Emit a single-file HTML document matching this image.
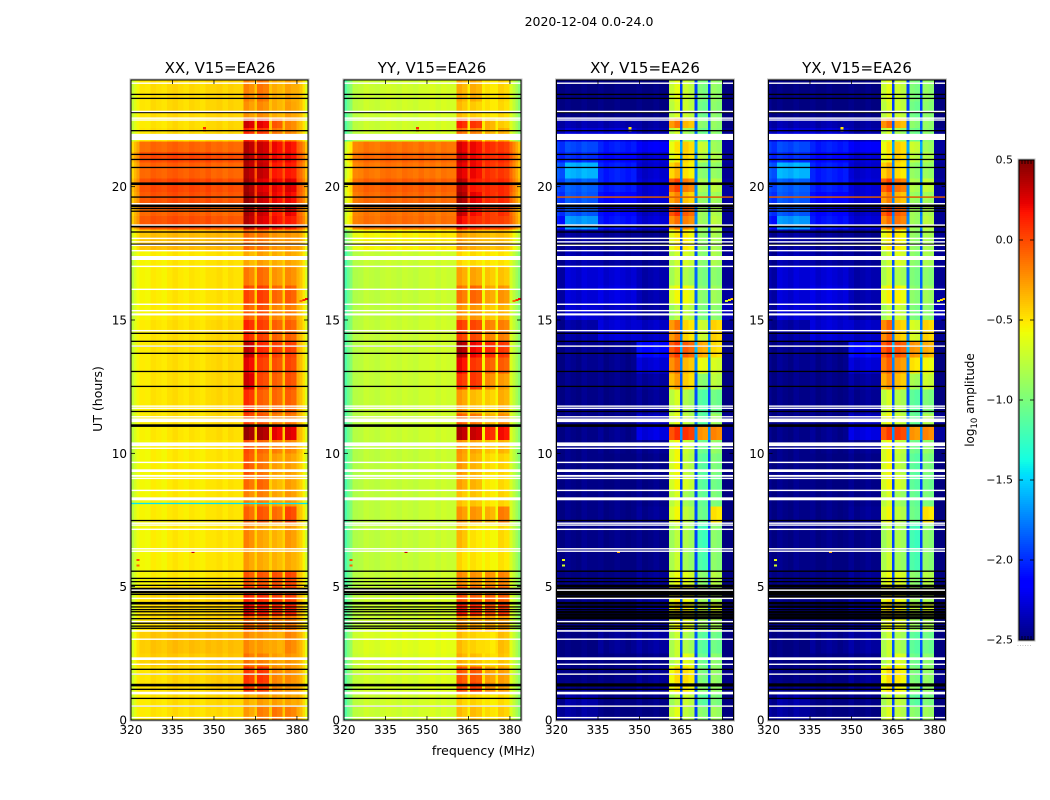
<!DOCTYPE html>
<html lang="en">
<head>
<meta charset="utf-8">
<title>2020-12-04 0.0-24.0</title>
<style>
html,body{margin:0;padding:0;background:#fff;width:1050px;height:800px;overflow:hidden}
svg{display:block;font-family:"DejaVu Sans","Liberation Sans",sans-serif;fill:#000}
</style>
</head>
<body>
<svg id="figure" xmlns="http://www.w3.org/2000/svg" width="1050" height="800" viewBox="0 0 1050 800">
  <rect x="0" y="0" width="1050" height="800" fill="#fff"/>
  <text x="589" y="26" font-size="12.5" text-anchor="middle">2020-12-04 0.0-24.0</text>
  <g id="panel-xx"></g>
  <g id="panel-yy"></g>
  <g id="panel-xy"></g>
  <g id="panel-yx"></g>
  <text x="220" y="73" font-size="15" text-anchor="middle">XX, V15=EA26</text>
  <text x="432" y="73" font-size="15" text-anchor="middle">YY, V15=EA26</text>
  <text x="645" y="73" font-size="15" text-anchor="middle">XY, V15=EA26</text>
  <text x="857" y="73" font-size="15" text-anchor="middle">YX, V15=EA26</text>
  <text x="483.5" y="755" font-size="12.5" text-anchor="middle">frequency (MHz)</text>
  <text x="0" y="0" font-size="12.5" text-anchor="middle" transform="translate(102,399) rotate(-90)">UT (hours)</text>
  <g id="colorbar"></g>
  <text x="0" y="0" font-size="12" text-anchor="middle" transform="translate(974,400) rotate(-90)">log<tspan font-size="8.5" dy="3">10</tspan><tspan dy="-3"> amplitude</tspan></text>
  <text x="1017" y="646" font-size="6" fill="#888" letter-spacing="0.6">......</text>
</svg>
<script>
// Axis ticks
const freqTicks = [320, 335, 350, 365, 380];
const hourTicks = [0, 5, 10, 15, 20];
const colorbarTicks = [0.5, 0.0, -0.5, -1.0, -1.5, -2.0, -2.5];

// Frequency channel edges in MHz (37 channels)
const channelEdges = [320,321,322,323,325,327,329,331,333,335,337,339,341,343,345,347,349,351,353,355,357,359,360.6,362.6,364.7,365.5,367.7,369.9,371,372.8,374.7,375.7,377.8,379.9,381,382,383,384];
// Which level column each channel reads
const channelColumn = [0,0,0,1,1,1,1,1,1,2,2,2,2,2,2,2,3,3,3,3,3,3,4,4,3,5,5,3,6,6,3,7,7,8,8,8,8];
// Channel-by-channel log10 amplitude deviations
const xxChannelOffset = [-.22,-.12,-.04,-.02,-.03,.02,0,-.02,.02,.03,0,-.02,.02,0,-.02,.02,0,.02,-.02,.02,0,0,.03,-.03,.06,.02,-.02,.06,.02,-.02,.06,.02,-.02,.12,.06,-.05,-.2];
const yyChannelOffset = [-.3,-.18,-.1,-.05,-.03,.02,0,-.02,.02,.02,0,-.02,.02,0,-.02,.02,0,.02,-.02,.02,0,0,.03,-.03,.15,.02,-.02,.15,.02,-.02,.15,.02,-.02,.15,.05,-.05,-.15];
const xyChannelOffset = [.05,0,0,.03,0,-.03,.03,0,0,.03,-.03,0,.03,0,-.03,0,.03,-.03,0,.03,0,0,-.08,.04,.55,.03,-.03,.55,.02,-.02,.55,.02,-.02,0,0,0,0];
const yxChannelOffset = [.05,0,0,.03,0,-.03,.03,0,0,.03,-.03,0,.03,0,-.03,0,.03,-.03,0,.03,0,0,-.08,.04,.55,.03,-.03,.55,.02,-.02,.55,.02,-.02,0,0,0,0];

// Time block edges in hours (40 blocks)
const blockEdges = [0,.5,.95,1.4,2,2.5,3.3,3.9,4.4,5,5.6,6.4,7.4,8,8.6,9.2,10,10.5,11,11.5,12.4,13,13.6,14.2,15,15.6,16.3,17,17.6,18.4,18.9,19.3,19.8,20.3,20.9,21.3,21.7,22.2,22.6,23.2,24];

// log10 amplitude per block: [edgeL, cont1, cont2, cont3, band1, band2, band3, band4, edgeR]
const xxLevels = [
[-.50,-.50,-.48,-.47,-.28,-.18,-.15,-.18,-.42],
[-.50,-.50,-.48,-.46,-.33,-.28,-.28,-.30,-.42],
[-.48,-.48,-.46,-.42,.05,.02,-.20,-.25,-.40],
[-.48,-.48,-.45,-.42,.05,.06,-.20,-.22,-.40],
[-.44,-.42,-.42,-.40,-.15,-.18,-.28,-.25,-.42],
[-.44,-.40,-.38,-.38,-.22,-.27,-.32,-.20,-.42],
[-.50,-.47,-.45,-.44,-.08,-.12,-.18,-.15,-.45],
[-.50,-.47,-.46,-.45,.22,.15,.10,.12,-.42],
[-.50,-.46,-.46,-.44,.10,.08,.03,.03,-.42],
[-.54,-.53,-.52,-.50,-.05,-.05,-.03,.00,-.47],
[-.56,-.54,-.52,-.50,-.28,-.32,-.35,-.32,-.50],
[-.56,-.54,-.52,-.50,-.20,-.30,-.35,-.26,-.50],
[-.54,-.53,-.52,-.50,-.10,-.05,-.12,.00,-.47],
[-.56,-.54,-.52,-.50,-.20,-.18,-.30,-.26,-.50],
[-.56,-.54,-.52,-.50,-.12,-.10,-.35,-.28,-.50],
[-.56,-.54,-.52,-.50,-.05,-.15,-.28,-.28,-.50],
[-.56,-.54,-.52,-.50,-.03,-.10,-.18,-.20,-.47],
[-.54,-.52,-.50,-.48,.42,.38,.22,.25,-.44],
[-.54,-.50,-.49,-.46,.02,-.05,-.18,-.15,-.44],
[-.52,-.50,-.49,-.46,.08,-.08,-.10,-.08,-.44],
[-.52,-.50,-.49,-.46,.28,.00,-.08,-.03,-.44],
[-.52,-.50,-.49,-.46,.22,.03,-.03,.00,-.44],
[-.52,-.50,-.49,-.46,.33,.10,.03,.03,-.44],
[-.52,-.50,-.49,-.46,.10,.03,-.08,-.08,-.44],
[-.54,-.53,-.51,-.49,-.08,-.03,-.20,-.17,-.46],
[-.54,-.53,-.51,-.49,.00,.03,-.10,-.07,-.46],
[-.54,-.53,-.51,-.49,-.17,-.12,-.25,-.22,-.46],
[-.54,-.53,-.51,-.49,-.33,-.28,-.33,-.30,-.47],
[-.44,-.38,-.37,-.36,-.12,-.15,-.25,-.25,-.38],
[-.20,-.03,-.02,-.05,.35,.25,.18,.15,-.15],
[-.23,-.08,-.07,-.10,.38,.30,.15,.22,-.18],
[-.20,-.03,-.02,-.05,.42,.30,.20,.20,-.15],
[-.17,.00,.01,-.02,.40,.25,.22,.25,-.13],
[-.23,-.08,-.07,-.10,.36,.32,.15,.15,-.18],
[-.17,.00,.01,-.02,.38,.30,.20,.20,-.13],
[-.25,-.10,-.09,-.11,.36,.30,.20,.18,-.18],
[-.52,-.48,-.47,-.45,.10,.05,-.15,-.20,-.45],
[-.52,-.50,-.48,-.46,.28,.22,-.05,-.20,-.45],
[-.52,-.48,-.47,-.45,-.25,-.22,-.33,-.28,-.45],
[-.52,-.48,-.47,-.45,-.20,-.15,-.33,-.30,-.45]
];
const yyLevels = [
[-.85,-.72,-.70,-.68,-.38,-.38,-.48,-.43,-.80],
[-.85,-.72,-.70,-.68,-.43,-.45,-.52,-.48,-.80],
[-.82,-.70,-.68,-.65,-.02,.02,-.22,-.28,-.78],
[-.82,-.70,-.68,-.65,-.05,-.05,-.28,-.28,-.78],
[-.80,-.68,-.66,-.64,-.33,-.38,-.47,-.40,-.78],
[-.80,-.66,-.64,-.62,-.38,-.45,-.50,-.38,-.78],
[-.85,-.72,-.70,-.68,-.23,-.28,-.28,-.28,-.80],
[-.85,-.72,-.70,-.68,.15,.10,.00,.05,-.78],
[-.85,-.72,-.70,-.68,-.02,-.07,-.07,-.07,-.78],
[-.88,-.74,-.72,-.70,-.22,-.24,-.24,-.20,-.80],
[-.88,-.76,-.74,-.72,-.47,-.50,-.54,-.50,-.82],
[-.88,-.76,-.74,-.72,-.37,-.50,-.54,-.47,-.82],
[-.88,-.76,-.74,-.72,-.25,-.25,-.33,-.17,-.82],
[-.88,-.76,-.74,-.72,-.40,-.40,-.50,-.45,-.82],
[-.88,-.76,-.74,-.72,-.30,-.35,-.52,-.47,-.82],
[-.88,-.76,-.74,-.72,-.27,-.35,-.47,-.45,-.82],
[-.88,-.76,-.74,-.72,-.25,-.30,-.40,-.35,-.82],
[-.86,-.74,-.72,-.70,.35,.30,.10,.18,-.80],
[-.86,-.74,-.72,-.70,-.08,-.15,-.33,-.23,-.80],
[-.86,-.74,-.72,-.70,-.28,-.38,-.43,-.33,-.80],
[-.86,-.74,-.72,-.70,.05,.05,-.22,-.27,-.80],
[-.86,-.74,-.72,-.70,.20,.05,-.07,-.07,-.80],
[-.86,-.74,-.72,-.70,.38,.20,.10,.05,-.80],
[-.86,-.74,-.72,-.70,.03,.00,-.18,-.18,-.80],
[-.88,-.76,-.74,-.72,-.25,-.25,-.40,-.35,-.82],
[-.88,-.76,-.74,-.72,-.15,-.10,-.30,-.25,-.82],
[-.88,-.76,-.74,-.72,-.30,-.30,-.40,-.40,-.82],
[-.88,-.74,-.72,-.70,-.47,-.47,-.50,-.50,-.80],
[-.72,-.56,-.54,-.52,-.28,-.33,-.38,-.38,-.62],
[-.38,-.13,-.11,-.13,.20,.10,.05,.02,-.23],
[-.42,-.15,-.13,-.15,.32,.18,.05,.08,-.25],
[-.38,-.11,-.09,-.11,.40,.22,.10,.10,-.23],
[-.35,-.08,-.06,-.08,.35,.15,.10,.10,-.20],
[-.42,-.15,-.13,-.15,.25,.20,.08,.05,-.25],
[-.35,-.10,-.08,-.10,.30,.20,.10,.10,-.20],
[-.42,-.15,-.13,-.15,.25,.20,.10,.05,-.25],
[-.85,-.72,-.70,-.68,-.13,-.18,-.33,-.33,-.80],
[-.85,-.72,-.70,-.68,.10,.05,-.33,-.43,-.80],
[-.85,-.72,-.70,-.68,-.38,-.43,-.50,-.47,-.80],
[-.85,-.72,-.70,-.68,-.33,-.33,-.50,-.45,-.80]
];
const xyLevels = [
[-2.45,-2.42,-2.50,-2.50,-.66,-.78,-.95,-.88,-2.50],
[-2.48,-2.40,-2.50,-2.48,-.80,-.74,-1.12,-1.00,-2.50],
[-2.48,-2.48,-2.50,-2.45,-.55,-.55,-.95,-.92,-2.48],
[-2.48,-2.50,-2.50,-2.45,-.50,-.50,-1.00,-.92,-2.48],
[-2.50,-2.50,-2.50,-2.48,-.75,-.65,-1.05,-.95,-2.50],
[-2.50,-2.50,-2.45,-2.42,-.75,-.84,-1.12,-1.05,-2.50],
[-2.50,-2.50,-2.50,-2.45,-.60,-.65,-.88,-.84,-2.50],
[-2.42,-2.48,-2.48,-2.35,-.50,-.55,-.74,-.65,-2.50],
[-2.48,-2.48,-2.48,-2.42,-.55,-.60,-.88,-.84,-2.50],
[-2.50,-2.50,-2.50,-2.45,-.62,-.66,-.95,-.80,-2.50],
[-2.50,-2.48,-2.50,-2.48,-.75,-.88,-1.18,-.95,-2.50],
[-2.50,-2.48,-2.48,-2.48,-.80,-.84,-1.22,-.95,-2.50],
[-2.50,-2.48,-2.48,-2.45,-.60,-.78,-1.05,-.50,-2.50],
[-2.50,-2.48,-2.48,-2.47,-.70,-.88,-1.08,-1.00,-2.50],
[-2.50,-2.48,-2.50,-2.48,-.60,-.70,-1.12,-1.05,-2.50],
[-2.50,-2.48,-2.50,-2.48,-.60,-.78,-1.12,-1.00,-2.50],
[-2.50,-2.48,-2.48,-2.45,-.60,-.74,-1.05,-.92,-2.50],
[-2.50,-2.48,-2.46,-2.25,.05,.05,-.25,-.20,-2.42],
[-2.50,-2.48,-2.48,-2.35,-.65,-.78,-1.12,-.88,-2.45],
[-2.50,-2.48,-2.48,-2.45,-.70,-.84,-1.15,-1.05,-2.50],
[-2.50,-2.48,-2.48,-2.42,-.30,-.45,-.95,-.78,-2.50],
[-2.50,-2.46,-2.46,-2.28,-.15,-.38,-.60,-.68,-2.50],
[-2.50,-2.46,-2.46,-2.12,.02,-.08,-.32,-.48,-2.50],
[-2.48,-2.40,-2.28,-2.32,-.18,-.48,-.72,-.45,-2.45],
[-2.45,-2.28,-2.32,-2.42,-.82,-.78,-1.00,-.95,-2.35],
[-2.42,-2.28,-2.25,-2.38,-.60,-.60,-.95,-.88,-2.42],
[-2.42,-2.28,-2.28,-2.38,-.78,-.84,-1.00,-.95,-2.45],
[-2.48,-2.38,-2.42,-2.45,-.74,-.70,-.95,-.84,-2.45],
[-2.48,-2.42,-2.45,-2.48,-.55,-.55,-.92,-.84,-2.45],
[-2.10,-1.68,-2.08,-2.28,-.15,-.20,-.88,-.78,-2.45],
[-2.00,-1.88,-2.12,-2.32,.05,-.08,-.88,-.82,-2.45],
[-2.00,-1.88,-2.12,-2.28,-.22,-.42,-.92,-.88,-2.42],
[-1.95,-1.85,-2.05,-2.28,.00,-.18,-.84,-.78,-2.42],
[-1.90,-1.60,-2.05,-2.30,-.38,-.52,-.95,-.92,-2.45],
[-2.05,-2.00,-2.12,-2.28,-.58,-.48,-.78,-.82,-2.42],
[-2.00,-1.92,-2.05,-2.18,-.52,-.45,-.72,-.88,-2.42],
[-2.35,-2.28,-2.28,-2.38,-.72,-.88,-1.05,-.95,-2.45],
[-2.42,-2.38,-2.38,-2.42,-.18,-.38,-.95,-.92,-2.50],
[-2.50,-2.50,-2.50,-2.50,-.70,-.74,-1.05,-.95,-2.50],
[-2.50,-2.50,-2.50,-2.50,-.65,-.74,-1.00,-.92,-2.50]
];
const yxLevels = [
[-2.45,-2.42,-2.50,-2.50,-.68,-.78,-.95,-.88,-2.50],
[-2.48,-2.40,-2.50,-2.48,-.77,-.76,-1.12,-1.00,-2.50],
[-2.48,-2.48,-2.50,-2.45,-.53,-.57,-.95,-.92,-2.48],
[-2.48,-2.50,-2.50,-2.45,-.50,-.53,-1.00,-.92,-2.48],
[-2.50,-2.50,-2.50,-2.48,-.75,-.67,-1.05,-.95,-2.50],
[-2.50,-2.50,-2.45,-2.42,-.75,-.84,-1.12,-1.05,-2.50],
[-2.50,-2.50,-2.50,-2.45,-.60,-.65,-.88,-.84,-2.50],
[-2.42,-2.48,-2.48,-2.35,-.47,-.55,-.74,-.65,-2.50],
[-2.48,-2.48,-2.48,-2.42,-.55,-.60,-.88,-.84,-2.50],
[-2.50,-2.50,-2.50,-2.45,-.62,-.66,-.95,-.80,-2.50],
[-2.50,-2.48,-2.50,-2.48,-.75,-.88,-1.18,-.95,-2.50],
[-2.50,-2.48,-2.48,-2.48,-.80,-.84,-1.22,-.95,-2.50],
[-2.50,-2.48,-2.48,-2.45,-.60,-.78,-1.05,-.50,-2.50],
[-2.50,-2.48,-2.48,-2.47,-.70,-.88,-1.08,-1.00,-2.50],
[-2.50,-2.48,-2.50,-2.48,-.60,-.70,-1.12,-1.05,-2.50],
[-2.50,-2.48,-2.50,-2.48,-.60,-.78,-1.12,-1.00,-2.50],
[-2.50,-2.48,-2.48,-2.45,-.60,-.74,-1.05,-.92,-2.50],
[-2.50,-2.48,-2.46,-2.25,.02,.02,-.25,-.20,-2.42],
[-2.50,-2.48,-2.48,-2.35,-.60,-.74,-1.08,-.82,-2.45],
[-2.50,-2.48,-2.48,-2.45,-.70,-.82,-1.12,-1.00,-2.50],
[-2.50,-2.48,-2.48,-2.42,-.25,-.40,-.85,-.72,-2.50],
[-2.50,-2.46,-2.46,-2.28,-.10,-.25,-.50,-.58,-2.50],
[-2.50,-2.46,-2.46,-2.12,.02,-.05,-.25,-.33,-2.50],
[-2.48,-2.40,-2.28,-2.32,-.13,-.43,-.68,-.45,-2.45],
[-2.45,-2.28,-2.32,-2.42,-.80,-.75,-1.00,-.95,-2.35],
[-2.42,-2.28,-2.25,-2.38,-.57,-.57,-.95,-.88,-2.42],
[-2.42,-2.28,-2.28,-2.38,-.75,-.84,-1.00,-.95,-2.45],
[-2.48,-2.38,-2.42,-2.45,-.74,-.67,-.95,-.84,-2.45],
[-2.48,-2.42,-2.45,-2.48,-.55,-.55,-.92,-.84,-2.45],
[-2.10,-1.68,-2.08,-2.28,-.15,-.17,-.88,-.78,-2.45],
[-2.00,-1.88,-2.12,-2.32,.02,-.08,-.88,-.82,-2.45],
[-2.00,-1.88,-2.12,-2.28,-.20,-.37,-.90,-.88,-2.42],
[-1.95,-1.85,-2.05,-2.28,.00,-.15,-.82,-.75,-2.42],
[-1.90,-1.60,-2.05,-2.30,-.35,-.50,-.92,-.90,-2.45],
[-2.05,-2.00,-2.12,-2.28,-.55,-.45,-.78,-.82,-2.42],
[-2.00,-1.92,-2.05,-2.18,-.52,-.45,-.72,-.88,-2.42],
[-2.35,-2.28,-2.28,-2.38,-.72,-.88,-1.05,-.95,-2.45],
[-2.42,-2.38,-2.38,-2.42,-.15,-.35,-.95,-.92,-2.50],
[-2.50,-2.50,-2.50,-2.50,-.70,-.74,-1.05,-.95,-2.50],
[-2.50,-2.50,-2.50,-2.50,-.65,-.74,-1.00,-.92,-2.50]
];

// Flagged integrations (hours)
const blackRowsThin = [23.46,23.31,22.78,22.10,21.21,21.02,20.72,19.61,19.18,19.08,18.30,17.84,14.50,14.20,14.02,13.75,13.07,12.51,11.57,7.48,5.58,5.31,5.19,5.05,4.71,4.24,4.14,4.06,3.94,3.80,3.63,3.52,3.44,1.90,1.72,1.15,0.81,0.52];
const blackRowsThick = [20.11,19.28,18.52,11.04,4.91,4.80,4.38,1.31];
const crossBlackRowsThick = [4.72,4.62,4.25,4.05,3.95,3.85,1.33,1.30,5.02];
const whiteRowsThin = [23.88,22.82,22.57,22.50,19.36,18.56,18.06,17.93,17.80,17.60,17.01,16.15,15.59,15.35,14.60,14.02,11.77,11.69,11.37,10.19,9.66,9.06,8.61,7.38,7.31,7.15,6.42,6.33,4.87,4.56,3.69,3.03,2.09,1.72,0.52,0.09];
const whiteBlockStarts = [21.75,17.25,15.17,11.17,10.27,9.30,9.12,8.24,3.31,2.25,0.96];
const whiteBlockEnds = [21.98,17.40,15.25,11.31,10.41,9.40,9.19,8.35,3.37,2.35,1.06];

// Single anomalous integrations: hour, value
const xxLineHours = [8.12];
const xxLineValues = [-1.45];
const crossLineHours = [19.61];
const crossLineValues = [-0.1];

// Isolated RFI pixels: frequency, hour, value
const rfiFreqs = [382.5,383.5,381.5,346.5,346.5,342.5,322.5,322.5];
const rfiHours = [15.75,15.78,15.72,22.2,22.1,6.3,6.0,5.8];
const rfiValues = [0.1,0.2,-0.1,0.1,0.05,0.3,0.0,-0.1];

const NS = 'http://www.w3.org/2000/svg';
const plotTop = 80, plotBottom = 720, plotWidth = 177;
const yScale = h => plotBottom - h * (plotBottom - plotTop) / 24;
const makeXScale = left => f => left + (f - 320) * plotWidth / 64;
const vMin = -2.5, vMax = 0.5;

function segment(t, pts) {
  for (let i = 1; i < pts.length; i++) {
    if (t <= pts[i][0]) {
      const a = pts[i - 1], b = pts[i];
      return a[1] + (b[1] - a[1]) * (t - a[0]) / (b[0] - a[0]);
    }
  }
  return pts[pts.length - 1][1];
}
function jet(v) {
  const t = Math.max(0, Math.min(1, (v - vMin) / (vMax - vMin)));
  const r = segment(t, [[0,0],[.35,0],[.66,1],[.89,1],[1,.5]]);
  const g = segment(t, [[0,0],[.125,0],[.375,1],[.64,1],[.91,0],[1,0]]);
  const b = segment(t, [[0,.5],[.11,1],[.34,1],[.65,0],[1,0]]);
  return 'rgb(' + Math.round(r * 255) + ',' + Math.round(g * 255) + ',' + Math.round(b * 255) + ')';
}
function shape(parent, tag, attrs) {
  const el = document.createElementNS(NS, tag);
  for (const k in attrs) el.setAttribute(k, attrs[k]);
  parent.appendChild(el);
  return el;
}
function tickText(v, decimals) {
  return v.toFixed(decimals).replace('-', '\u2212');
}

function drawPanel(id, left, levels, offsets, lineHours, lineValues, isCross) {
  const g = document.getElementById(id);
  const x = makeXScale(left);
  const right = left + plotWidth;
  const cells = shape(g, 'g', {'shape-rendering': 'crispEdges'});
  
  

  levels.forEach((row, b) => {
    const y0 = yScale(blockEdges[b + 1]), y1 = yScale(blockEdges[b]);
    channelColumn.forEach((col, c) => {
      const x0 = x(channelEdges[c]), x1 = x(channelEdges[c + 1]);
      const cell = shape(cells, 'rect', {x: x0, y: y0, width: x1 - x0, height: y1 - y0, fill: jet(row[col] + offsets[c])});
      
      
    });
  });

  rfiFreqs.forEach((f, i) => {
    const speck = shape(cells, 'rect', {x: x(f) - 1.5, y: yScale(rfiHours[i]) - 1, width: 3, height: 2, fill: jet(rfiValues[i] + (isCross ? -0.6 : 0))});
    
    
  });

  function rowBand(name, hour, thickness, fill) {
    const band = shape(g, 'rect', {x: left, y: yScale(hour) - thickness / 2, width: plotWidth, height: thickness, fill: fill});
    
    
  }
  blackRowsThin.forEach(h => rowBand('flagged-row-black', h, 1.3, '#000'));
  blackRowsThick.forEach(h => rowBand('flagged-row-black', h, 2.6, '#000'));
  if (isCross) crossBlackRowsThick.forEach(h => rowBand('flagged-row-black', h, 2.4, '#000'));
  lineHours.forEach((h, i) => rowBand('anomalous-row', h, 1.3, jet(lineValues[i])));
  whiteRowsThin.forEach(h => rowBand('flagged-row-white', h, 1.4, '#fff'));
  whiteBlockStarts.forEach((h, i) => {
    const top = yScale(whiteBlockEnds[i]);
    const block = shape(g, 'rect', {x: left, y: top, width: plotWidth, height: yScale(h) - top, fill: '#fff'});
    
    
  });

  const halo = shape(g, 'rect', {x: left - 1, y: plotTop - 1, width: plotWidth + 2, height: plotBottom - plotTop + 2, fill: 'none', stroke: '#bdbdbd', 'stroke-width': 1});
  
  
  const frame = shape(g, 'rect', {x: left, y: plotTop, width: plotWidth, height: plotBottom - plotTop, fill: 'none', stroke: '#000', 'stroke-width': 1});
  
  

  freqTicks.forEach(f => {
    const tb = shape(g, 'line', {x1: x(f), x2: x(f), y1: plotBottom, y2: plotBottom - 4, stroke: '#000', 'stroke-width': 0.8});
    
    
    const tt = shape(g, 'line', {x1: x(f), x2: x(f), y1: plotTop, y2: plotTop + 4, stroke: '#000', 'stroke-width': 0.8});
    
    
    const label = shape(g, 'text', {x: x(f), y: 734, 'font-size': 12, 'text-anchor': 'middle'});
    label.textContent = tickText(f, 0);
    
    
  });
  hourTicks.forEach(h => {
    const y = yScale(h);
    const tl = shape(g, 'line', {x1: left, x2: left + 4, y1: y, y2: y, stroke: '#000', 'stroke-width': 0.8});
    
    
    const tr = shape(g, 'line', {x1: right, x2: right - 4, y1: y, y2: y, stroke: '#000', 'stroke-width': 0.8});
    
    
    const label = shape(g, 'text', {x: left - 4, y: y + 4.5, 'font-size': 12, 'text-anchor': 'end'});
    label.textContent = tickText(h, 0);
    
    
  });
}

drawPanel('panel-xx', 131, xxLevels, xxChannelOffset, xxLineHours, xxLineValues, false);
drawPanel('panel-yy', 344, yyLevels, yyChannelOffset, [], [], false);
drawPanel('panel-xy', 556.5, xyLevels, xyChannelOffset, crossLineHours, crossLineValues, true);
drawPanel('panel-yx', 768.5, yxLevels, yxChannelOffset, crossLineHours, crossLineValues, true);

(function drawColorbar() {
  const g = document.getElementById('colorbar');
  const cbLeft = 1019, cbWidth = 15, cbTop = 160, cbBottom = 640;
  const cy = v => cbBottom - (v - vMin) / (vMax - vMin) * (cbBottom - cbTop);
  const steps = 240;
  const strips = shape(g, 'g', {'shape-rendering': 'crispEdges'});
  
  
  for (let i = 0; i < steps; i++) {
    const v0 = vMin + (vMax - vMin) * i / steps, v1 = vMin + (vMax - vMin) * (i + 1) / steps;
    const s = shape(strips, 'rect', {x: cbLeft, y: cy(v1), width: cbWidth, height: cy(v0) - cy(v1), fill: jet((v0 + v1) / 2)});
    
    
  }
  const halo = shape(g, 'rect', {x: cbLeft - 1, y: cbTop - 1, width: cbWidth + 2, height: cbBottom - cbTop + 2, fill: 'none', stroke: '#bdbdbd', 'stroke-width': 1});
  
  
  const frame = shape(g, 'rect', {x: cbLeft, y: cbTop, width: cbWidth, height: cbBottom - cbTop, fill: 'none', stroke: '#000', 'stroke-width': 1});
  
  
  colorbarTicks.forEach(v => {
    const y = cy(v);
    const tl = shape(g, 'line', {x1: cbLeft, x2: cbLeft + 4, y1: y, y2: y, stroke: '#000', 'stroke-width': 0.8});
    
    
    const tr = shape(g, 'line', {x1: cbLeft + cbWidth, x2: cbLeft + cbWidth - 4, y1: y, y2: y, stroke: '#000', 'stroke-width': 0.8});
    
    
    const label = shape(g, 'text', {x: cbLeft - 6, y: y + 3.5, 'font-size': 11, 'text-anchor': 'end'});
    label.textContent = tickText(v, 1);
    
    
  });
  for (let i = 1; i < 5; i++) {
    const x = cbLeft + i * cbWidth / 5;
    const top = shape(g, 'line', {x1: x, x2: x, y1: cbTop, y2: cbTop + 4, stroke: '#000', 'stroke-width': 0.8});
    
    
    const bot = shape(g, 'line', {x1: x, x2: x, y1: cbBottom, y2: cbBottom - 4, stroke: '#000', 'stroke-width': 0.8});
    
    
  }
})();
</script>
</body>
</html>
